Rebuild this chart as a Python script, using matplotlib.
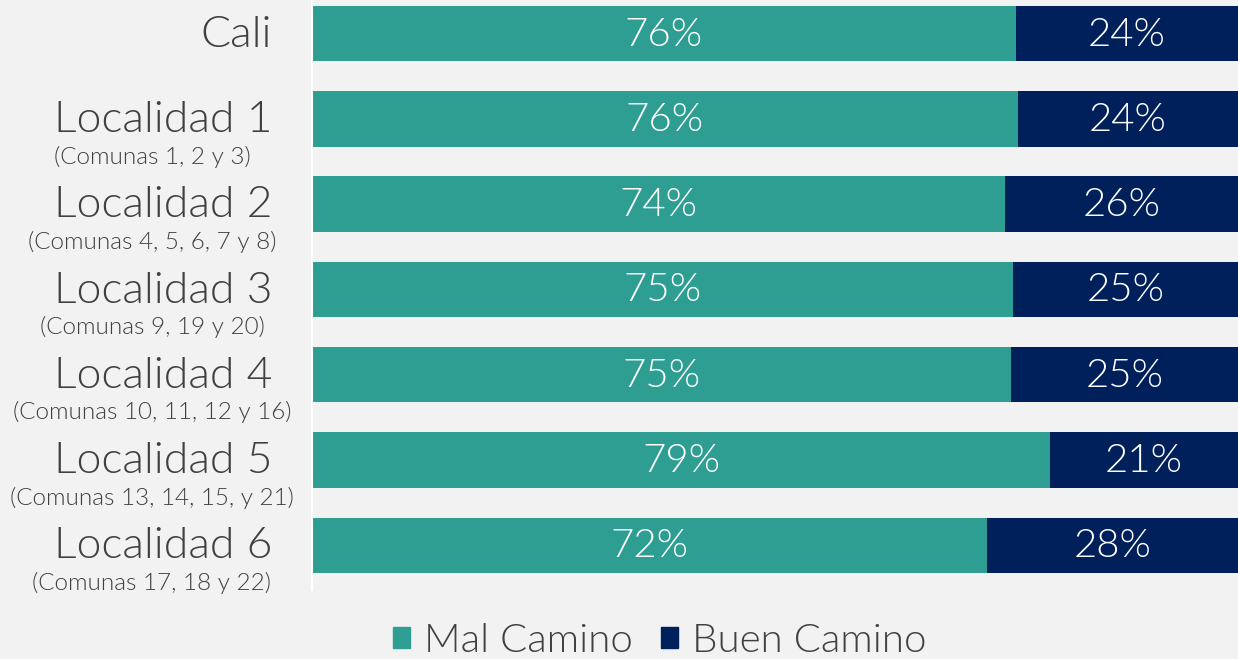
import matplotlib.pyplot as plt
from matplotlib.patches import Patch
from matplotlib.transforms import blended_transform_factory


regions = ["Cali", "Localidad 1", "Localidad 2", "Localidad 3",
           "Localidad 4", "Localidad 5", "Localidad 6"]
comunas = ["", "(Comunas 1, 2 y 3)", "(Comunas 4, 5, 6, 7 y 8)",
           "(Comunas 9, 19 y 20)", "(Comunas 10, 11, 12 y 16)",
           "(Comunas 13, 14, 15, y 21)", "(Comunas 17, 18 y 22)"]
mal_camino = [76.0, 76.2, 74.8, 75.7, 75.5, 79.7, 72.9]
buen_camino = [24.0, 23.8, 25.2, 24.3, 24.5, 20.3, 27.1]
mal_labels = [76, 76, 74, 75, 75, 79, 72]
buen_labels = [24, 24, 26, 25, 25, 21, 28]

TEAL = "#2e9e93"
NAVY = "#00205b"
TEXT = "#404040"
BG = "#f2f2f2"

plt.rcParams["font.family"] = ["Lato", "DejaVu Sans"]
WEIGHT = 300

W, H = 1238, 659
fig = plt.figure(figsize=(W / 100, H / 100), dpi=100, facecolor=BG)
ax = fig.add_axes([312 / W, 1 - 590 / H, 1 - 312 / W, 590 / H])
ax.set_facecolor(BG)

y = list(range(len(regions)))
ax.barh(y, mal_camino, height=0.65, color=TEAL, label="Mal Camino")
ax.barh(y, buen_camino, left=mal_camino, height=0.65, color=NAVY, label="Buen Camino")

for i in y:
    ax.text(mal_camino[i] / 2, i + 0.01, f"{mal_labels[i]}%", color="white",
            fontsize=29, fontweight=WEIGHT, ha="center", va="center")
    ax.text(mal_camino[i] + buen_camino[i] / 2, i + 0.01, f"{buen_labels[i]}%",
            color="white", fontsize=29, fontweight=WEIGHT, ha="center", va="center")

ax.set_xlim(0, 100)
ax.set_ylim(6.525, -0.395)
ax.set_xticks([])
ax.set_yticks([])
for side in ["top", "right", "bottom"]:
    ax.spines[side].set_visible(False)
ax.spines["left"].set_color("white")
ax.spines["left"].set_linewidth(1.5)

tr = blended_transform_factory(fig.transFigure, ax.transData)
for i in y:
    ax.text(272 / W, i + 0.02, regions[i], transform=tr, ha="right", va="center",
            fontsize=32, fontweight=WEIGHT, color=TEXT, clip_on=False)
    if comunas[i]:
        ax.text(152 / W, i + 0.44, comunas[i], transform=tr, ha="center",
                va="center", fontsize=17.5, fontweight=WEIGHT, color=TEXT,
                clip_on=False)

handles = [Patch(color=TEAL, label="Mal Camino"), Patch(color=NAVY, label="Buen Camino")]
fig.legend(handles=handles, loc="center", bbox_to_anchor=(0.533, 1 - 641 / H),
           ncol=2, frameon=False, handlelength=0.42, handleheight=0.42,
           handletextpad=0.35, columnspacing=0.7, labelcolor=TEXT,
           prop={"size": 29, "weight": WEIGHT})

fig.savefig("out.png", dpi=100, facecolor=BG)
